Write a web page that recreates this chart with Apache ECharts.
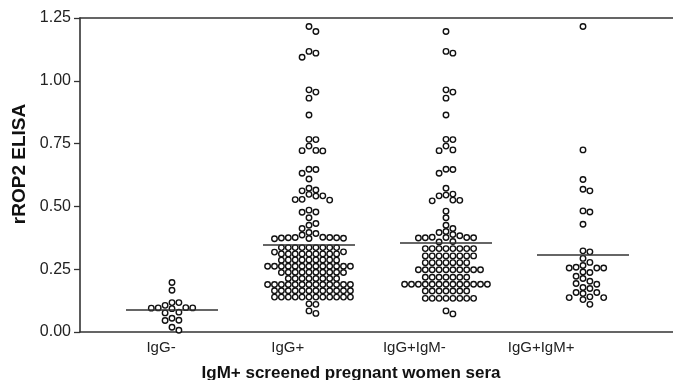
<!DOCTYPE html>
<html>
<head>
<meta charset="utf-8">
<script src="https://cdn.jsdelivr.net/npm/echarts@6/dist/echarts.min.js"></script>
<style>
html, body { margin: 0; padding: 0; background: #fff; }
#main { width: 673px; height: 380px; }
</style>
</head>
<body>
<div id="main"></div>
<script>
// groups on the x axis
var groups = ['IgG-', 'IgG+', 'IgG+IgM-', 'IgG+IgM+'];

// rROP2 ELISA values
var igGneg = [0.197, 0.166, 0.117, 0.117, 0.106, 0.097, 0.096, 0.096, 0.095, 0.093,
    0.079, 0.076, 0.055, 0.047, 0.046, 0.019, 0.007];

var igGpos = [1.216, 1.196, 1.117, 1.110, 1.094, 0.964, 0.955, 0.931, 0.864,
    0.767, 0.766, 0.740, 0.723, 0.722, 0.721, 0.648, 0.647, 0.632, 0.609,
    0.572, 0.565, 0.562, 0.548, 0.542, 0.541, 0.528, 0.527, 0.525,
    0.485, 0.478, 0.477, 0.455, 0.432, 0.425, 0.412, 0.396, 0.392, 0.386,
    0.377, 0.376, 0.376, 0.375, 0.375, 0.374, 0.373, 0.372, 0.371,
    0.336, 0.336, 0.336, 0.336, 0.336, 0.336, 0.336, 0.336, 0.336,
    0.319, 0.318,
    0.311, 0.311, 0.311, 0.311, 0.311, 0.311, 0.311, 0.311, 0.311,
    0.287, 0.287, 0.287, 0.287, 0.286, 0.286, 0.287, 0.287, 0.287,
    0.262, 0.262, 0.262, 0.262, 0.262, 0.262, 0.262, 0.262, 0.262, 0.262, 0.262, 0.262, 0.262,
    0.238, 0.238, 0.238, 0.238, 0.237, 0.237, 0.238, 0.238, 0.238, 0.238,
    0.213, 0.213, 0.213, 0.213, 0.213, 0.213, 0.213, 0.213,
    0.189, 0.189, 0.189, 0.189, 0.189, 0.189, 0.189, 0.189, 0.189, 0.189, 0.189, 0.189, 0.189,
    0.164, 0.164, 0.164, 0.164, 0.164, 0.164, 0.164, 0.164, 0.164, 0.164, 0.164, 0.164,
    0.139, 0.139, 0.139, 0.139, 0.139, 0.139, 0.139, 0.139, 0.139, 0.139, 0.139, 0.139,
    0.112, 0.110, 0.084, 0.074];

var igGposIgMneg = [1.196, 1.117, 1.110, 0.964, 0.955, 0.931, 0.864,
    0.767, 0.766, 0.740, 0.725, 0.722, 0.648, 0.647, 0.632, 0.572,
    0.549, 0.545, 0.542, 0.525, 0.524, 0.522, 0.481, 0.455,
    0.425, 0.412, 0.400, 0.396, 0.388, 0.383,
    0.377, 0.376, 0.376, 0.375, 0.375, 0.374, 0.360, 0.358,
    0.332, 0.332, 0.332, 0.332, 0.332, 0.332, 0.332, 0.332,
    0.303, 0.303, 0.303, 0.303, 0.303, 0.303, 0.303, 0.303,
    0.276, 0.276, 0.276, 0.276, 0.276, 0.276, 0.276,
    0.248, 0.248, 0.248, 0.248, 0.248, 0.248, 0.248, 0.248, 0.248, 0.248,
    0.218, 0.218, 0.218, 0.218, 0.218, 0.218, 0.218,
    0.190, 0.190, 0.190, 0.190, 0.190, 0.190, 0.190, 0.190, 0.190, 0.190, 0.190, 0.190, 0.190,
    0.163, 0.163, 0.163, 0.163, 0.163, 0.163, 0.163,
    0.134, 0.134, 0.134, 0.134, 0.134, 0.134, 0.134, 0.134,
    0.084, 0.072];

var igGposIgMpos = [1.216, 0.725, 0.607, 0.568, 0.562, 0.482, 0.478, 0.429,
    0.323, 0.319, 0.293, 0.277, 0.265, 0.258, 0.255, 0.255, 0.255,
    0.239, 0.237, 0.222, 0.213, 0.202, 0.193, 0.190, 0.177, 0.173,
    0.157, 0.157, 0.153, 0.140, 0.137, 0.137, 0.129, 0.110];

// horizontal bar drawn across each group
var groupLines = [0.09, 0.348, 0.355, 0.309];

var seriesValues = [igGneg, igGpos, igGposIgMneg, igGposIgMpos];

// layout
var FONT = 'Liberation Sans, Arial, sans-serif';
var GRID_LEFT = 80, GRID_TOP = 18, GRID_BOTTOM = 48, PLOT_W = 593;
var PLOT_H = 380 - GRID_TOP - GRID_BOTTOM;
var Y_MAX = 1.25;
var X_MIN = 0.3285, X_MAX = 4.657;
var pxPerX = PLOT_W / (X_MAX - X_MIN);
var pxPerY = PLOT_H / Y_MAX;
var DOT_PITCH = 6.9;   // px between dot columns
var DOT_GAP = 6.0;     // px, minimum vertical distance in one column
var HALF_BAR = 46;     // px, half width of group line

// simple beeswarm: put each dot in the nearest free column
function swarm(values, k) {
    var placed = [];
    var sorted = values.slice().sort(function (a, b) { return b - a; });
    return sorted.map(function (v) {
        for (var i = 0; ; i++) {
            var s = i === 0 ? 0 : (i % 2 ? (i + 1) / 2 : -i / 2);
            var clash = placed.some(function (p) {
                return p.s === s && Math.abs(p.v - v) * pxPerY < DOT_GAP;
            });
            if (!clash) {
                placed.push({ s: s, v: v });
                return [k + s * DOT_PITCH / pxPerX, v];
            }
        }
    });
}

var series = seriesValues.map(function (vals, i) {
    var k = i + 1;
    var h = HALF_BAR / pxPerX;
    return {
        type: 'scatter',
        xAxisIndex: 0,
        yAxisIndex: 0,
        data: swarm(vals, k),
        symbol: 'circle',
        symbolSize: 5.5,
        itemStyle: { color: '#fff', borderColor: '#111', borderWidth: 1.4, opacity: 1 },
        silent: true,
        markLine: {
            silent: true,
            symbol: 'none',
            label: { show: false },
            lineStyle: { color: '#333', width: 1.6, type: 'solid' },
            data: [[{ coord: [k - h, groupLines[i]] }, { coord: [k + h, groupLines[i]] }]]
        }
    };
});

var chart = echarts.init(document.getElementById('main'));
chart.setOption({
    animation: false,
    backgroundColor: '#fff',
    grid: [
        { left: GRID_LEFT, top: GRID_TOP, width: PLOT_W, height: PLOT_H, outerBoundsMode: 'none' },
        { left: 97.7, top: GRID_TOP, width: 506.7, height: PLOT_H, outerBoundsMode: 'none' }
    ],
    xAxis: [
        {
            type: 'value', gridIndex: 0, min: X_MIN, max: X_MAX,
            axisLine: { show: true, lineStyle: { color: '#333', width: 1.6 } },
            axisTick: { show: false }, axisLabel: { show: false }, splitLine: { show: false }
        },
        {
            type: 'value', gridIndex: 0, position: 'top', min: X_MIN, max: X_MAX,
            axisLine: { show: true, lineStyle: { color: '#333', width: 1.6 } },
            axisTick: { show: false }, axisLabel: { show: false }, splitLine: { show: false }
        },
        {
            type: 'category', gridIndex: 1, data: groups,
            axisLine: { show: false }, axisTick: { show: false },
            axisLabel: { margin: 8, fontSize: 15, color: '#222', fontFamily: FONT },
            name: 'IgM+ screened pregnant women sera',
            nameLocation: 'middle', nameGap: 33,
            nameTextStyle: { fontSize: 17, fontWeight: 'bold', color: '#111', fontFamily: FONT }
        }
    ],
    yAxis: [
        {
            type: 'value', gridIndex: 0, min: 0, max: Y_MAX, interval: 0.25,
            axisLine: { show: true, lineStyle: { color: '#333', width: 1.6 } },
            axisTick: { show: true, inside: false, length: 6, lineStyle: { color: '#333', width: 1.3 } },
            axisLabel: {
                margin: 9, fontSize: 16, color: '#222', fontFamily: FONT,
                formatter: function (v) { return v.toFixed(2); }
            },
            splitLine: { show: false },
            name: 'rROP2 ELISA', nameLocation: 'middle', nameGap: 48,
            nameTextStyle: { fontSize: 19, fontWeight: 'bold', color: '#111', fontFamily: FONT, padding: [0, 0, 0, 22] }
        },
        {
            type: 'value', gridIndex: 1, min: 0, max: Y_MAX, show: false
        }
    ],
    series: series
});
</script>
</body>
</html>
